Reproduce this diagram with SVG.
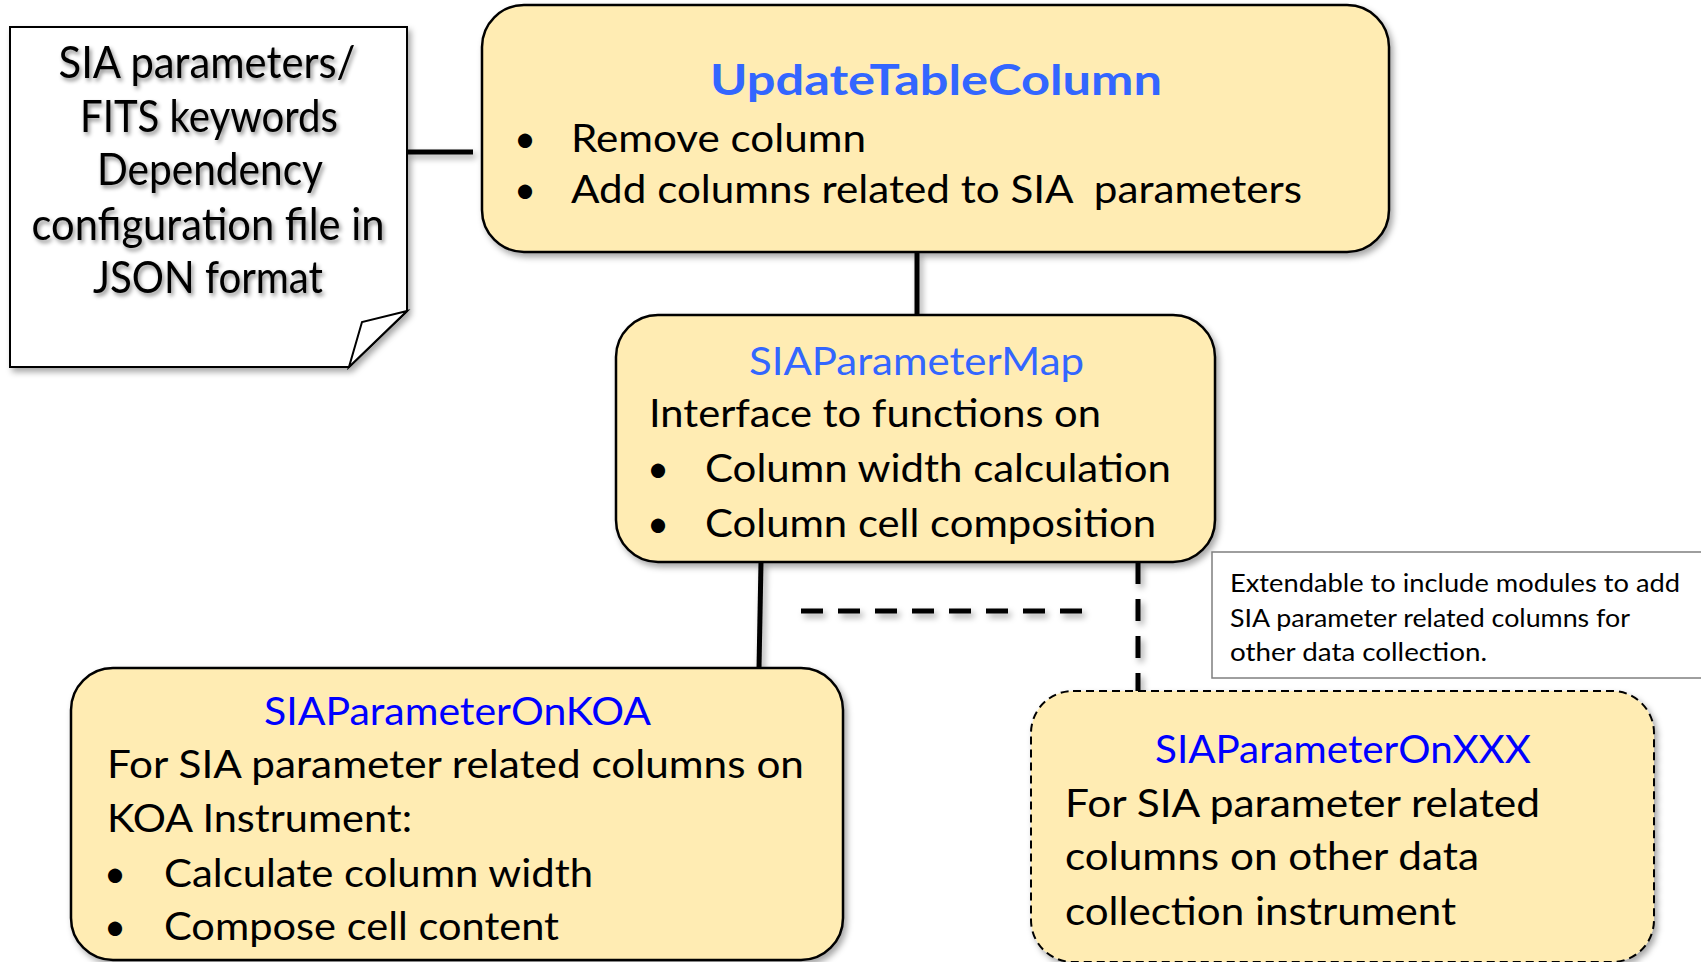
<svg xmlns="http://www.w3.org/2000/svg" width="1701" height="962" viewBox="0 0 1701 962">
  <defs>
    <filter id="shadow" x="-10%" y="-10%" width="130%" height="130%">
      <feDropShadow dx="3" dy="4" stdDeviation="3" flood-color="#000" flood-opacity="0.35"/>
    </filter>
    <filter id="textShadow" x="-10%" y="-20%" width="130%" height="160%">
      <feDropShadow dx="2" dy="3" stdDeviation="2" flood-color="#000" flood-opacity="0.45"/>
    </filter>
    <style>
      text { font-family: Lato, "Liberation Sans", sans-serif; fill: #000; }
      .box { fill: #FFECB3; stroke: #000; stroke-width: 2.5; }
      .dashedBox { fill: #FFECB3; stroke: #000; stroke-width: 2; stroke-dasharray: 8 5; }
      .body { font-size: 38px; }
      .title { font-size: 39px; }
      .titleLight { fill: #3366FF; }
      .titleDeep { fill: #0000FF; }
      .note { font-size: 44px; text-anchor: middle; }
      .small { font-size: 25px; }
      .link { stroke: #000; stroke-width: 5; fill: none; }
      .dash { stroke-dasharray: 22 15; }
    </style>
  </defs>
  <rect width="1701" height="962" fill="#fff"/>

  <!-- connectors -->
  <g id="connectors" filter="url(#shadow)">
    <line class="link" x1="407" y1="152" x2="473" y2="152"/>
    <line class="link" x1="917" y1="252" x2="917" y2="315"/>
    <line class="link" x1="761" y1="562" x2="759" y2="668"/>
    <line class="link dash" x1="1138" y1="562" x2="1138" y2="691"/>
    <line class="link dash" x1="801" y1="611" x2="1085" y2="611"/>
  </g>

  <!-- configuration file note -->
  <g id="configNote">
    <path d="M10,27 H407 V311 L349,367 H10 Z" fill="#fff" stroke="#000" stroke-width="2" filter="url(#shadow)"/>
    <path d="M407,311 L362,322 L349,367 Z" fill="#fff" stroke="#000" stroke-width="2"/>
    <g filter="url(#textShadow)">
      <text class="note" x="207" y="78" textLength="297" lengthAdjust="spacingAndGlyphs">SIA parameters/</text>
      <text class="note" x="209" y="132" textLength="258" lengthAdjust="spacingAndGlyphs">FITS keywords</text>
      <text class="note" x="210" y="185" textLength="226" lengthAdjust="spacingAndGlyphs">Dependency</text>
      <text class="note" x="208" y="240" textLength="353" lengthAdjust="spacingAndGlyphs">configuration file in</text>
      <text class="note" x="208" y="293" textLength="230" lengthAdjust="spacingAndGlyphs">JSON format</text>
    </g>
  </g>

  <!-- UpdateTableColumn -->
  <g id="updateTableColumn">
    <rect class="box" x="482" y="5" width="907" height="247" rx="42" ry="42" filter="url(#shadow)"/>
    <text class="titleLight" x="710" y="95" font-size="42" font-weight="bold" textLength="452" lengthAdjust="spacingAndGlyphs">UpdateTableColumn</text>
    <text class="body" x="514" y="152">•</text>
    <text class="body" x="571" y="152" textLength="295" lengthAdjust="spacingAndGlyphs">Remove column</text>
    <text class="body" x="514" y="203">•</text>
    <text class="body" x="571" y="203" textLength="731" lengthAdjust="spacingAndGlyphs" xml:space="preserve">Add columns related to SIA  parameters</text>
  </g>

  <!-- SIAParameterMap -->
  <g id="siaParameterMap">
    <rect class="box" x="616" y="315" width="599" height="247" rx="42" ry="42" filter="url(#shadow)"/>
    <text class="title titleLight" x="749" y="375" textLength="335" lengthAdjust="spacingAndGlyphs">SIAParameterMap</text>
    <text class="body" x="649" y="427" textLength="452" lengthAdjust="spacingAndGlyphs">Interface to functions on</text>
    <text class="body" x="647" y="482">•</text>
    <text class="body" x="705" y="482" textLength="466" lengthAdjust="spacingAndGlyphs">Column width calculation</text>
    <text class="body" x="647" y="537">•</text>
    <text class="body" x="705" y="537" textLength="451" lengthAdjust="spacingAndGlyphs">Column cell composition</text>
  </g>

  <!-- extension remark -->
  <g id="extensionNote">
    <rect x="1212" y="552" width="520" height="126" fill="#fff" stroke="#7F7F7F" stroke-width="1.5"/>
    <text class="small" x="1230" y="592" textLength="450" lengthAdjust="spacingAndGlyphs">Extendable to include modules to add</text>
    <text class="small" x="1230" y="627" textLength="400" lengthAdjust="spacingAndGlyphs">SIA parameter related columns for</text>
    <text class="small" x="1230" y="661" textLength="257" lengthAdjust="spacingAndGlyphs">other data collection.</text>
  </g>

  <!-- SIAParameterOnKOA -->
  <g id="siaParameterOnKOA">
    <rect class="box" x="71" y="668" width="772" height="292" rx="42" ry="42" filter="url(#shadow)"/>
    <text class="title titleDeep" x="264" y="725" textLength="387" lengthAdjust="spacingAndGlyphs">SIAParameterOnKOA</text>
    <text class="body" x="107" y="778" textLength="697" lengthAdjust="spacingAndGlyphs">For SIA parameter related columns on</text>
    <text class="body" x="107" y="832" textLength="305" lengthAdjust="spacingAndGlyphs">KOA Instrument:</text>
    <text class="body" x="104" y="887">•</text>
    <text class="body" x="164" y="887" textLength="429" lengthAdjust="spacingAndGlyphs">Calculate column width</text>
    <text class="body" x="104" y="940">•</text>
    <text class="body" x="164" y="940" textLength="395" lengthAdjust="spacingAndGlyphs">Compose cell content</text>
  </g>

  <!-- SIAParameterOnXXX -->
  <g id="siaParameterOnXXX">
    <rect class="dashedBox" x="1031" y="691" width="623" height="271" rx="42" ry="42" filter="url(#shadow)"/>
    <text class="title titleDeep" x="1155" y="763" textLength="376" lengthAdjust="spacingAndGlyphs">SIAParameterOnXXX</text>
    <text class="body" x="1065" y="817" textLength="475" lengthAdjust="spacingAndGlyphs">For SIA parameter related</text>
    <text class="body" x="1065" y="870" textLength="414" lengthAdjust="spacingAndGlyphs">columns on other data</text>
    <text class="body" x="1065" y="925" textLength="391" lengthAdjust="spacingAndGlyphs">collection instrument</text>
  </g>
</svg>
